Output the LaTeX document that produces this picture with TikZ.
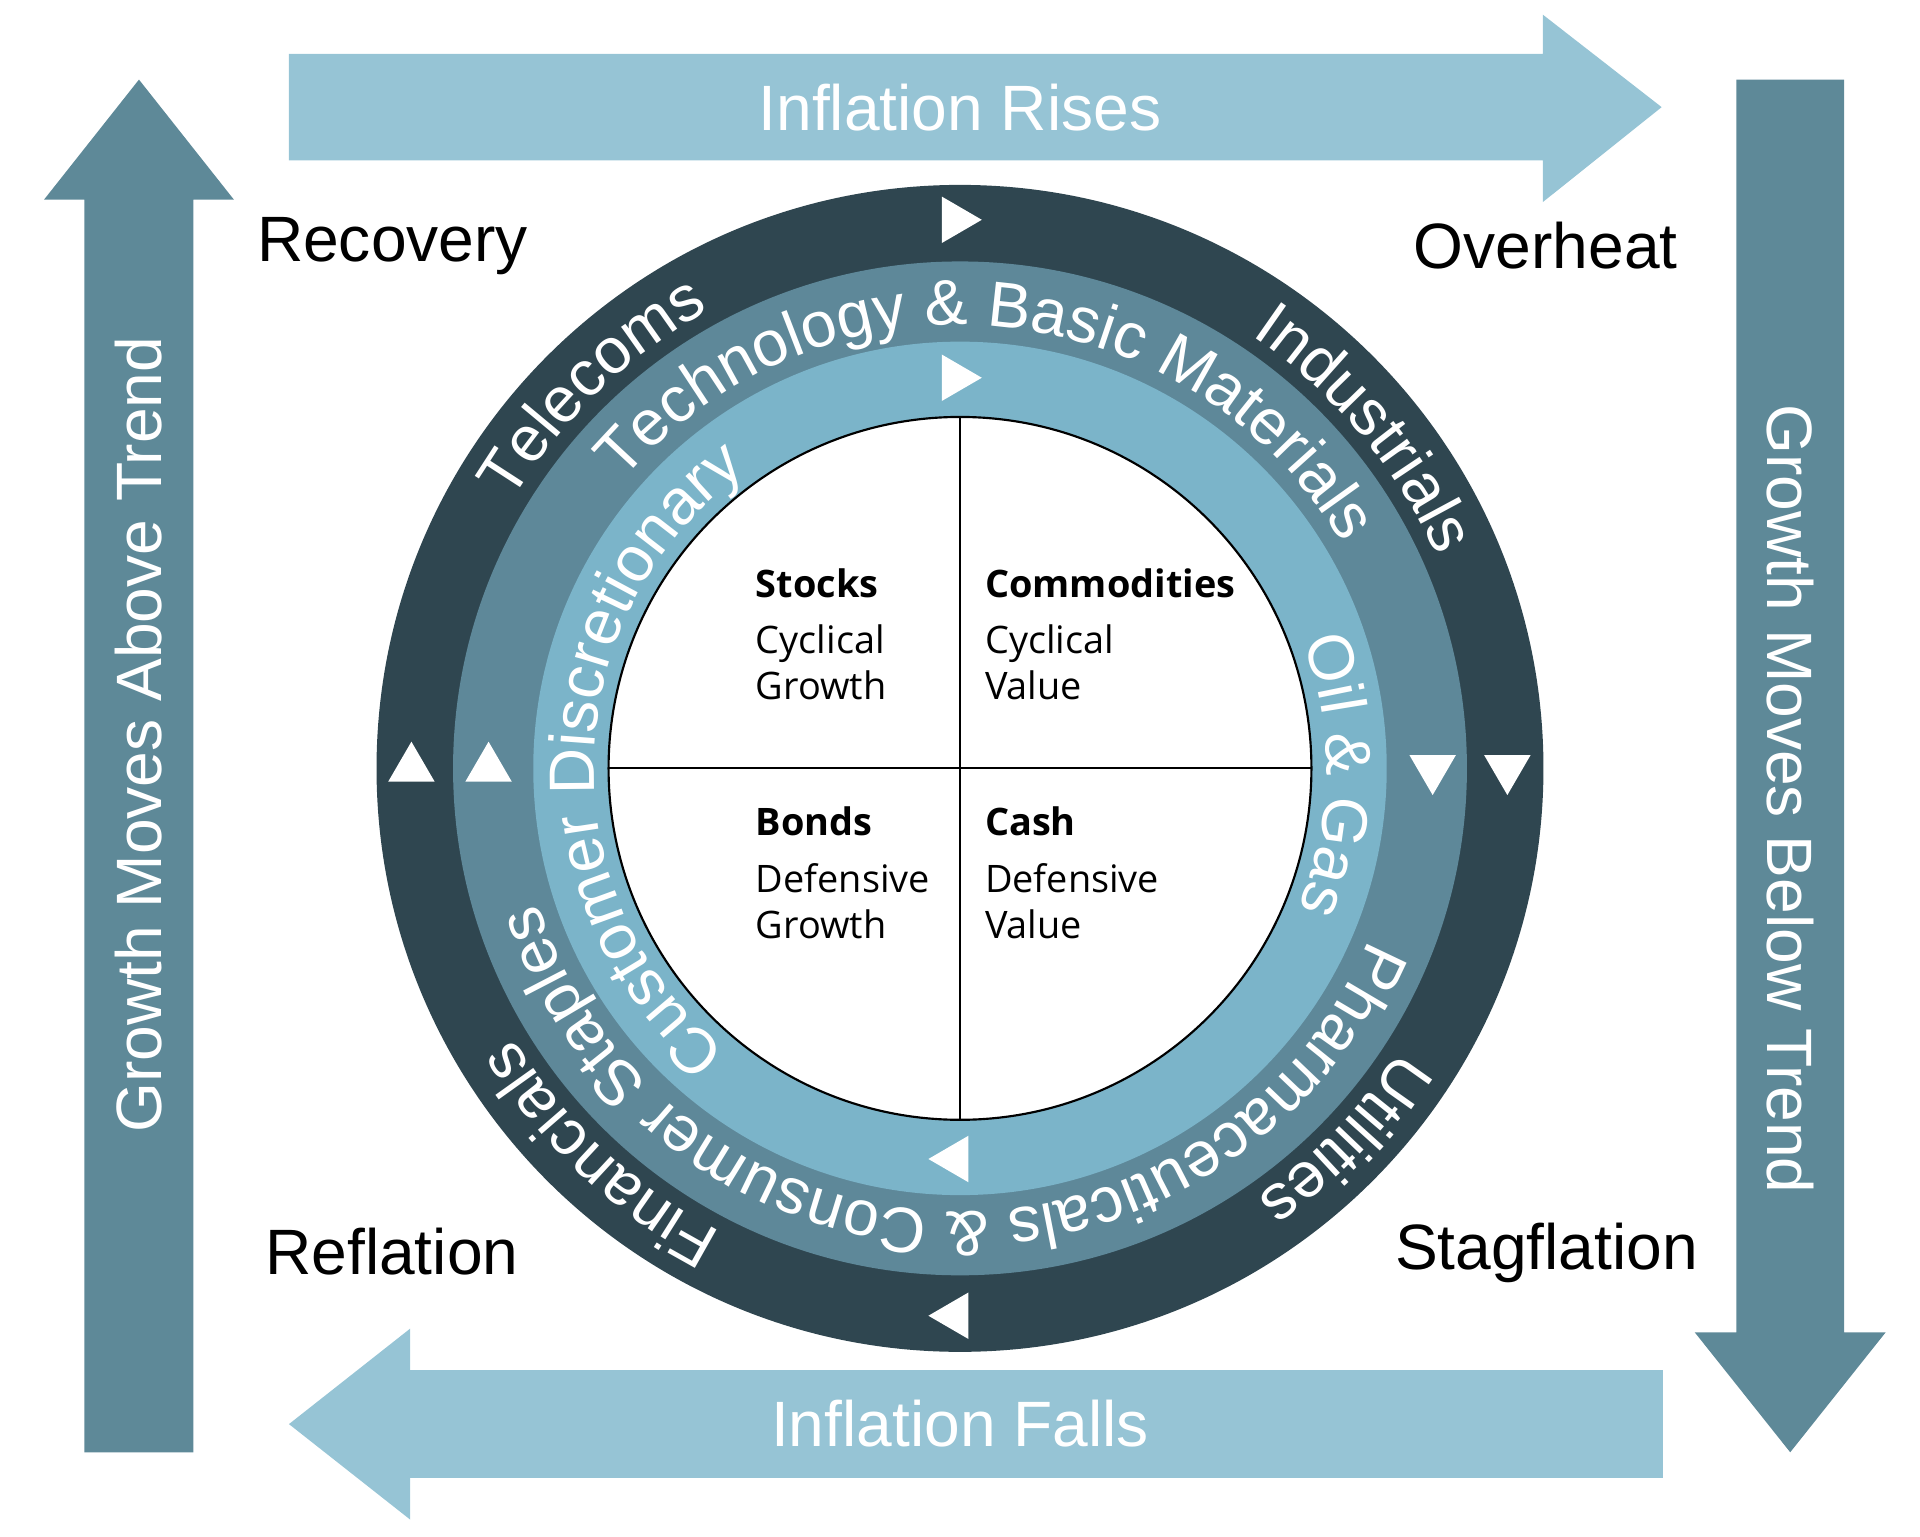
\documentclass[tikz,border=0pt]{standalone}
\usepackage{fontspec}
\setmainfont{Liberation Sans}
\newfontfamily\quadfont{Open Sans}
\usetikzlibrary{decorations.text}

\definecolor{ringdark}{RGB}{47,70,80}
\definecolor{ringmid}{RGB}{94,136,153}
\definecolor{ringlight}{RGB}{123,180,201}
\definecolor{arrowtop}{RGB}{150,196,213}
\definecolor{arrowside}{RGB}{94,137,152}

\tikzset{
	bigtext/.style={font=\fontsize{14.9}{17.9}\selectfont, inner sep=0pt},
	quadtext/.style={font=\quadfont\fontsize{8.8}{10.5}\selectfont, anchor=base west, inner sep=0pt},
	ringtext/.style={decorate, decoration={text along path, text align=center, text color=white,
		text={|\fontsize{14.9}{17.9}\selectfont|#1}}},
	marker/.style={fill=white}
}

\begin{document}
\begin{tikzpicture}
	\useasboundingbox (-7.84,-6.269) rectangle (7.84,6.275);

	%big arrows
	\fill[arrowtop] (-5.48,4.965) -- (4.76,4.965) -- (4.76,4.625) -- (5.73,5.40) -- (4.76,6.155) -- (4.76,5.835) -- (-5.48,5.835) -- cycle;
	\fill[arrowtop] (5.74,-4.915) -- (-4.49,-4.915) -- (-4.49,-4.575) -- (-5.48,-5.355) -- (-4.49,-6.135) -- (-4.49,-5.795) -- (5.74,-5.795) -- cycle;
	\fill[arrowside] (-7.15,-5.585) -- (-7.15,4.645) -- (-7.48,4.645) -- (-6.705,5.625) -- (-5.93,4.645) -- (-6.26,4.645) -- (-6.26,-5.585) -- cycle;
	\fill[arrowside] (6.34,5.625) -- (6.34,-4.605) -- (6.00,-4.605) -- (6.78,-5.585) -- (7.56,-4.605) -- (7.22,-4.605) -- (7.22,5.625) -- cycle;

	%rings
	\fill[ringdark] (0,0) circle (4.765);
	\fill[ringmid] (0,0) circle (4.14);
	\fill[ringlight] (0,0) circle (3.485);
	\draw[line width=0.5pt,fill=white] (0,0) circle (2.87);
	\draw[line width=0.5pt] (-2.87,0) -- (2.87,0) (0,2.87) -- (0,-2.87);

	%markers
	\foreach \x/\y/\dir in {-0.04/4.48/0, 4.47/0/-90, -0.04/-4.47/180, -4.48/0/90,
		-0.04/3.19/0, 3.86/0/-90, -0.04/-3.19/180, -3.85/0/90}
		\fill[marker, shift={(\x,\y)}, rotate=\dir] (0.218,0) -- (-0.109,0.19) -- (-0.109,-0.19) -- cycle;

	%ring labels
	\path[ringtext={Telecoms}] (174:4.26) arc[start angle=174, end angle=94, radius=4.26];
	\path[ringtext={Industrials}] (80:4.26) arc[start angle=80, end angle=0, radius=4.26];
	\path[ringtext={Utilities}] (-4:4.26) arc[start angle=-4, end angle=-84, radius=4.26];
	\path[ringtext={Financials}] (-93:4.26) arc[start angle=-93, end angle=-173, radius=4.26];
	\path[ringtext={Technology {\&} Basic Materials}] (160:3.62) arc[start angle=160, end angle=10, radius=3.62];
	\path[ringtext={Pharmaceuticals {\&} Consumer Staples}] (-7.5:3.62) arc[start angle=-7.5, end angle=-177.5, radius=3.62];
	\path[ringtext={Customer Discretionary}] (248:2.99) arc[start angle=248, end angle=108, radius=2.99];
	\path[ringtext={Oil {\&} Gas}] (39:2.99) arc[start angle=39, end angle=-41, radius=2.99];

	%labels
	\node[bigtext, white, anchor=base] (rises) at (0,5.213) {Inflation Rises};
	\node[bigtext, white, anchor=base] (falls) at (0,-5.537) {Inflation Falls};
	\node[bigtext, white, rotate=90] (above) at (-6.705,0.275) {Growth Moves Above Trend};
	\node[bigtext, white, rotate=-90] (below) at (6.78,-0.25) {Growth Moves Below Trend};

	\node[bigtext, anchor=base] (recovery) at (-4.635,4.138) {Recovery};
	\node[bigtext, anchor=base] (overheat) at (4.784,4.084) {Overheat};
	\node[bigtext, anchor=base] (reflation) at (-4.64,-4.135) {Reflation};
	\node[bigtext, anchor=base] (stagflation) at (4.79,-4.095) {Stagflation};

	\node[quadtext] (stocks) at (-1.674,1.397) {\bfseries Stocks};
	\node[quadtext] (stocks1) at (-1.674,0.935) {Cyclical};
	\node[quadtext] (stocks2) at (-1.674,0.559) {Growth};
	\node[quadtext] (comm) at (0.198,1.397) {\bfseries Commodities};
	\node[quadtext] (comm1) at (0.198,0.935) {Cyclical};
	\node[quadtext] (comm2) at (0.198,0.559) {Value};
	\node[quadtext] (bonds) at (-1.674,-0.549) {\bfseries Bonds};
	\node[quadtext] (bonds1) at (-1.674,-1.012) {Defensive};
	\node[quadtext] (bonds2) at (-1.674,-1.393) {Growth};
	\node[quadtext] (cash) at (0.198,-0.549) {\bfseries Cash};
	\node[quadtext] (cash1) at (0.198,-1.012) {Defensive};
	\node[quadtext] (cash2) at (0.198,-1.393) {Value};
\end{tikzpicture}
\end{document}
